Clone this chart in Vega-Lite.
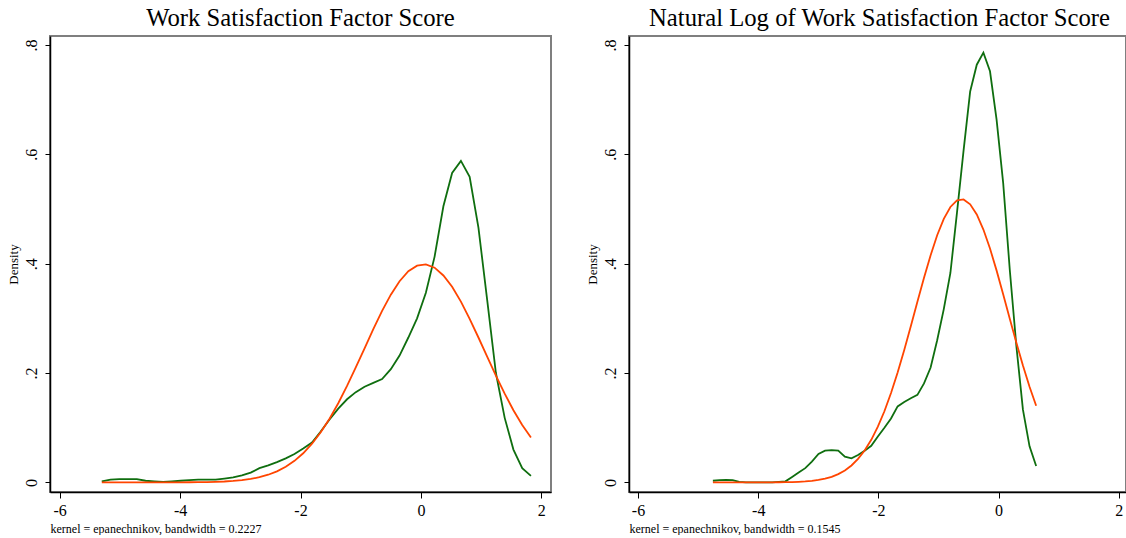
{
  "$schema": "https://vega.github.io/schema/vega-lite/v6.json",
  "padding": {"left": 5, "top": 5, "right": 0, "bottom": 0},
  "background": "white",
  "config": {
    "font": "Liberation Serif",
    "view": {"stroke": "#7f7f7f", "strokeWidth": 2},
    "axis": {"domainColor": "black", "tickColor": "black", "labelColor": "black", "titleColor": "black", "grid": false, "labelFont": "Liberation Serif", "titleFont": "Liberation Serif", "titleFontWeight": "normal", "labelFontSize": 16, "domainWidth": 1.5, "tickWidth": 1},
    "title": {"font": "Liberation Serif", "fontSize": 24.7, "fontWeight": "normal", "color": "black", "offset": 5},
    "concat": {"spacing": 32}
  },
  "datasets": {
    "left": [
      {"x": -5.300, "kdensity": 0.002, "normal": 0},
      {"x": -5.155, "kdensity": 0.005, "normal": 0},
      {"x": -5.009, "kdensity": 0.006, "normal": 0},
      {"x": -4.864, "kdensity": 0.006, "normal": 0},
      {"x": -4.718, "kdensity": 0.006, "normal": 0},
      {"x": -4.573, "kdensity": 0.003, "normal": 0},
      {"x": -4.427, "kdensity": 0.002, "normal": 0},
      {"x": -4.282, "kdensity": 0.001, "normal": 0},
      {"x": -4.136, "kdensity": 0.002, "normal": 0.0001},
      {"x": -3.991, "kdensity": 0.003, "normal": 0.0001},
      {"x": -3.845, "kdensity": 0.004, "normal": 0.0002},
      {"x": -3.700, "kdensity": 0.005, "normal": 0.0003},
      {"x": -3.555, "kdensity": 0.005, "normal": 0.0006},
      {"x": -3.409, "kdensity": 0.005, "normal": 0.0010},
      {"x": -3.264, "kdensity": 0.007, "normal": 0.0016},
      {"x": -3.118, "kdensity": 0.009, "normal": 0.0026},
      {"x": -2.973, "kdensity": 0.013, "normal": 0.0041},
      {"x": -2.827, "kdensity": 0.018, "normal": 0.0063},
      {"x": -2.682, "kdensity": 0.026, "normal": 0.0094},
      {"x": -2.536, "kdensity": 0.031, "normal": 0.0140},
      {"x": -2.391, "kdensity": 0.037, "normal": 0.0202},
      {"x": -2.245, "kdensity": 0.044, "normal": 0.0285},
      {"x": -2.100, "kdensity": 0.052, "normal": 0.0394},
      {"x": -1.955, "kdensity": 0.062, "normal": 0.0532},
      {"x": -1.809, "kdensity": 0.073, "normal": 0.0707},
      {"x": -1.664, "kdensity": 0.093, "normal": 0.0916},
      {"x": -1.518, "kdensity": 0.115, "normal": 0.1165},
      {"x": -1.373, "kdensity": 0.135, "normal": 0.1447},
      {"x": -1.227, "kdensity": 0.152, "normal": 0.1764},
      {"x": -1.082, "kdensity": 0.165, "normal": 0.2102},
      {"x": -0.936, "kdensity": 0.175, "normal": 0.2453},
      {"x": -0.791, "kdensity": 0.182, "normal": 0.2801},
      {"x": -0.645, "kdensity": 0.189, "normal": 0.3136},
      {"x": -0.500, "kdensity": 0.207, "normal": 0.3433},
      {"x": -0.355, "kdensity": 0.232, "normal": 0.3679},
      {"x": -0.209, "kdensity": 0.265, "normal": 0.3864},
      {"x": -0.064, "kdensity": 0.300, "normal": 0.3963},
      {"x": 0.082, "kdensity": 0.347, "normal": 0.3987},
      {"x": 0.227, "kdensity": 0.413, "normal": 0.3927},
      {"x": 0.373, "kdensity": 0.505, "normal": 0.3785},
      {"x": 0.518, "kdensity": 0.566, "normal": 0.3579},
      {"x": 0.664, "kdensity": 0.588, "normal": 0.3306},
      {"x": 0.809, "kdensity": 0.559, "normal": 0.2991},
      {"x": 0.955, "kdensity": 0.466, "normal": 0.2650},
      {"x": 1.100, "kdensity": 0.334, "normal": 0.2299},
      {"x": 1.245, "kdensity": 0.200, "normal": 0.1952},
      {"x": 1.391, "kdensity": 0.118, "normal": 0.1622},
      {"x": 1.536, "kdensity": 0.060, "normal": 0.1320},
      {"x": 1.682, "kdensity": 0.026, "normal": 0.1050},
      {"x": 1.827, "kdensity": 0.012, "normal": 0.0821}
    ],
    "right": [
      {"x": -4.754, "kdensity": 0.003, "normal": 0},
      {"x": -4.644, "kdensity": 0.004, "normal": 0},
      {"x": -4.534, "kdensity": 0.0045, "normal": 0},
      {"x": -4.425, "kdensity": 0.004, "normal": 0},
      {"x": -4.315, "kdensity": 0.001, "normal": 0},
      {"x": -4.205, "kdensity": 0.0, "normal": 0},
      {"x": -4.095, "kdensity": 0.0, "normal": 0},
      {"x": -3.985, "kdensity": 0.0, "normal": 0},
      {"x": -3.876, "kdensity": 0.0, "normal": 0.0001},
      {"x": -3.766, "kdensity": 0.0, "normal": 0.0001},
      {"x": -3.656, "kdensity": 0.001, "normal": 0.0002},
      {"x": -3.546, "kdensity": 0.002, "normal": 0.0004},
      {"x": -3.436, "kdensity": 0.010, "normal": 0.0006},
      {"x": -3.327, "kdensity": 0.018, "normal": 0.0011},
      {"x": -3.217, "kdensity": 0.026, "normal": 0.0018},
      {"x": -3.107, "kdensity": 0.038, "normal": 0.0028},
      {"x": -2.997, "kdensity": 0.052, "normal": 0.0044},
      {"x": -2.888, "kdensity": 0.058, "normal": 0.0068},
      {"x": -2.778, "kdensity": 0.059, "normal": 0.0102},
      {"x": -2.668, "kdensity": 0.058, "normal": 0.0151},
      {"x": -2.558, "kdensity": 0.047, "normal": 0.0218},
      {"x": -2.448, "kdensity": 0.044, "normal": 0.0309},
      {"x": -2.339, "kdensity": 0.050, "normal": 0.0429},
      {"x": -2.229, "kdensity": 0.058, "normal": 0.0584},
      {"x": -2.119, "kdensity": 0.067, "normal": 0.0779},
      {"x": -2.009, "kdensity": 0.084, "normal": 0.1018},
      {"x": -1.900, "kdensity": 0.100, "normal": 0.1301},
      {"x": -1.790, "kdensity": 0.117, "normal": 0.1634},
      {"x": -1.680, "kdensity": 0.139, "normal": 0.2008},
      {"x": -1.570, "kdensity": 0.147, "normal": 0.2421},
      {"x": -1.461, "kdensity": 0.154, "normal": 0.2855},
      {"x": -1.351, "kdensity": 0.160, "normal": 0.3302},
      {"x": -1.241, "kdensity": 0.181, "normal": 0.3743},
      {"x": -1.131, "kdensity": 0.210, "normal": 0.4156},
      {"x": -1.022, "kdensity": 0.260, "normal": 0.4521},
      {"x": -0.912, "kdensity": 0.317, "normal": 0.4821},
      {"x": -0.802, "kdensity": 0.383, "normal": 0.5038},
      {"x": -0.692, "kdensity": 0.494, "normal": 0.5158},
      {"x": -0.583, "kdensity": 0.607, "normal": 0.5175},
      {"x": -0.473, "kdensity": 0.715, "normal": 0.5087},
      {"x": -0.363, "kdensity": 0.764, "normal": 0.4900},
      {"x": -0.253, "kdensity": 0.786, "normal": 0.4625},
      {"x": -0.143, "kdensity": 0.752, "normal": 0.4277},
      {"x": -0.034, "kdensity": 0.664, "normal": 0.3878},
      {"x": 0.076, "kdensity": 0.548, "normal": 0.3443},
      {"x": 0.186, "kdensity": 0.389, "normal": 0.2995},
      {"x": 0.296, "kdensity": 0.249, "normal": 0.2552},
      {"x": 0.405, "kdensity": 0.133, "normal": 0.2136},
      {"x": 0.515, "kdensity": 0.066, "normal": 0.1749},
      {"x": 0.625, "kdensity": 0.030, "normal": 0.1402}
    ]
  },
  "hconcat": [
    {
      "width": 501,
      "height": 456,
      "title": {"text": "Work Satisfaction Factor Score"},
      "data": {"name": "left"},
      "encoding": {
        "x": {"field": "x", "type": "quantitative", "scale": {"domain": [-6.16, 2.16], "nice": false, "zero": false},
          "axis": {"values": [-6, -4, -2, 0, 2], "labelExpr": "'' + datum.value", "tickSize": 6, "labelPadding": 4, "title": "kernel = epanechnikov, bandwidth = 0.2227", "titleAnchor": "start", "titleFontSize": 12, "titlePadding": 5}}
      },
      "layer": [
        {"mark": {"type": "line", "color": "#0f6e0f", "strokeWidth": 1.8},
          "encoding": {"y": {"field": "kdensity", "type": "quantitative", "scale": {"domain": [-0.0176, 0.8165], "nice": false, "zero": false},
            "axis": {"values": [0, 0.2, 0.4, 0.6, 0.8], "labelExpr": "datum.value == 0 ? '0' : '.' + round(datum.value * 10)", "labelAngle": -90, "labelAlign": "center", "labelBaseline": "bottom", "labelPadding": 6, "tickSize": 5, "title": "Density", "titleFontSize": 13, "titlePadding": 3}}}},
        {"mark": {"type": "line", "color": "#ff4500", "strokeWidth": 1.8},
          "encoding": {"y": {"field": "normal", "type": "quantitative", "scale": {"domain": [-0.0176, 0.8165], "nice": false, "zero": false},
            "axis": {"values": [0, 0.2, 0.4, 0.6, 0.8], "labelExpr": "datum.value == 0 ? '0' : '.' + round(datum.value * 10)", "labelAngle": -90, "labelAlign": "center", "labelBaseline": "bottom", "labelPadding": 6, "tickSize": 5, "title": "Density", "titleFontSize": 13, "titlePadding": 3}}}}
      ]
    },
    {
      "width": 497,
      "height": 456,
      "title": {"text": "Natural Log of Work Satisfaction Factor Score", "dx": 2},
      "data": {"name": "right"},
      "encoding": {
        "x": {"field": "x", "type": "quantitative", "scale": {"domain": [-6.15, 2.12], "nice": false, "zero": false},
          "axis": {"values": [-6, -4, -2, 0, 2], "labelExpr": "'' + datum.value", "tickSize": 6, "labelPadding": 4, "title": "kernel = epanechnikov, bandwidth = 0.1545", "titleAnchor": "start", "titleFontSize": 12, "titlePadding": 5}}
      },
      "layer": [
        {"mark": {"type": "line", "color": "#0f6e0f", "strokeWidth": 1.8},
          "encoding": {"y": {"field": "kdensity", "type": "quantitative", "scale": {"domain": [-0.0176, 0.8165], "nice": false, "zero": false},
            "axis": {"values": [0, 0.2, 0.4, 0.6, 0.8], "labelExpr": "datum.value == 0 ? '0' : '.' + round(datum.value * 10)", "labelAngle": -90, "labelAlign": "center", "labelBaseline": "bottom", "labelPadding": 6, "tickSize": 5, "title": "Density", "titleFontSize": 13, "titlePadding": 3}}}},
        {"mark": {"type": "line", "color": "#ff4500", "strokeWidth": 1.8},
          "encoding": {"y": {"field": "normal", "type": "quantitative", "scale": {"domain": [-0.0176, 0.8165], "nice": false, "zero": false},
            "axis": {"values": [0, 0.2, 0.4, 0.6, 0.8], "labelExpr": "datum.value == 0 ? '0' : '.' + round(datum.value * 10)", "labelAngle": -90, "labelAlign": "center", "labelBaseline": "bottom", "labelPadding": 6, "tickSize": 5, "title": "Density", "titleFontSize": 13, "titlePadding": 3}}}}
      ]
    }
  ]
}
